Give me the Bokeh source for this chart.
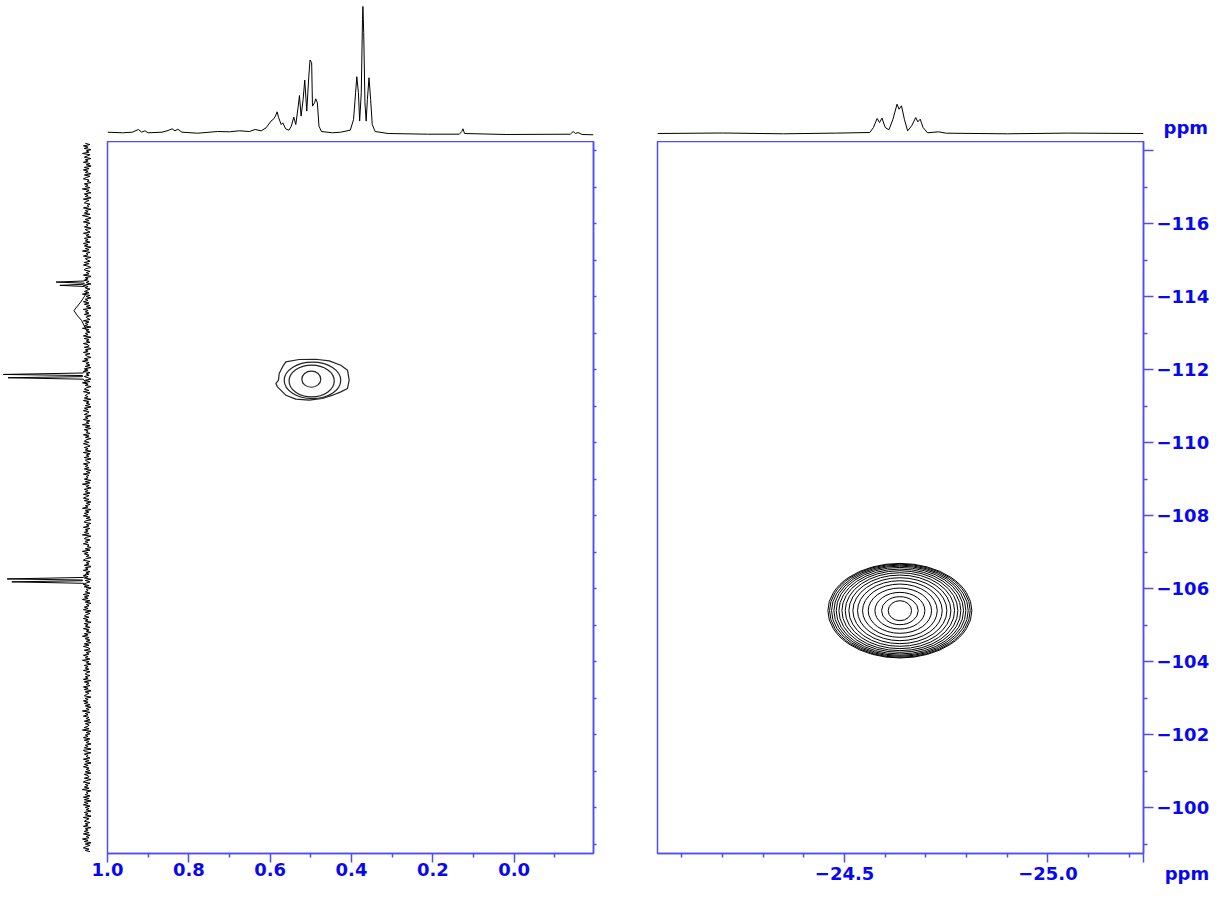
import numpy as np
from bokeh.plotting import figure
from bokeh.models import Range1d, FixedTicker, Spacer, CustomJSTickFormatter
from bokeh.layouts import row, column
from bokeh.embed import file_html
from bokeh.resources import INLINE

# ---------------- data ----------------
# 1D spectrum above the left panel (ppm, height)
H_TOP_PPM = [1.0, 0.963, 0.939, 0.924, 0.916, 0.908, 0.900, 0.866, 0.851, 0.841,
             0.834, 0.827, 0.817, 0.778, 0.729, 0.700, 0.676, 0.651, 0.637, 0.622,
             0.610, 0.598, 0.591, 0.587, 0.583, 0.579, 0.573, 0.569, 0.562, 0.554,
             0.548, 0.542, 0.537, 0.531, 0.528, 0.524, 0.519, 0.515, 0.510, 0.505,
             0.502, 0.498, 0.496, 0.491, 0.488, 0.484, 0.480, 0.474, 0.447, 0.427,
             0.403, 0.395, 0.390, 0.387, 0.383, 0.380, 0.376, 0.373, 0.372, 0.370,
             0.367, 0.364, 0.361, 0.357, 0.353, 0.349, 0.342, 0.310, 0.213, 0.135,
             0.129, 0.126, 0.122, 0.018, -0.138, -0.145, -0.151, -0.157, -0.167, -0.195]
H_TOP_INT = [1.3, 0.7, 1.3, 4.0, 1.3, 2.7, 0.7, 1.3, 3.0, 4.7,
             2.7, 4.3, 1.3, 0.3, 2.0, 1.7, 2.7, 2.0, 4.0, 2.7,
             5.7, 12.4, 14.7, 17.4, 21.7, 15.7, 9.0, 10.7, 4.7, 3.3,
             7.3, 16.4, 9.0, 27.4, 38.0, 17.4, 34.0, 53.4, 22.4, 57.4,
             73.5, 70.8, 27.4, 30.7, 34.7, 30.7, 7.3, 2.0, 0.7, 1.3,
             3.3, 14.0, 40.7, 56.8, 40.7, 12.4, 40.7, 114.0, 127.0, 101.0,
             30.7, 12.4, 34.0, 55.8, 34.0, 9.0, 2.0, 0.0, -0.7, -0.7,
             2.0, 4.7, 0.0, -1.0, -0.7, 2.0, 0.0, 1.0, -1.0, -1.3]

# 1D spectrum above the right panel
X_TOP_PPM = [-24.04, -24.20, -24.35, -24.48, -24.562, -24.571, -24.580, -24.586,
             -24.592, -24.600, -24.609, -24.619, -24.629, -24.634, -24.640, -24.647,
             -24.655, -24.665, -24.675, -24.680, -24.686, -24.693, -24.704, -24.731,
             -24.750, -24.90, -25.05, -25.235]
X_TOP_INT = [0.0, 0.5, -0.3, 0.4, 1.0, 6.0, 15.0, 11.0,
             15.3, 6.0, 3.7, 14.3, 29.3, 24.3, 27.7, 14.3,
             2.7, 7.7, 16.0, 11.7, 14.3, 6.0, 0.7, 1.7,
             0.3, -0.3, 0.4, 0.0]

# vertical projection (F1) peaks: ppm and height
F1_PEAK_PPM = [
    [-114.52, -114.43, -114.40, -114.37, -114.34, -114.31, -114.28, -114.20],
    [-114.15, -114.00, -113.85, -113.72, -113.62, -113.50, -113.35, -113.20, -113.05],
    [-112.05, -111.91, -111.87, -111.84, -111.81, -111.78, -111.74, -111.60],
    [-106.45, -106.31, -106.27, -106.24, -106.22, -106.19, -106.15, -106.02],
]
F1_PEAK_INT = [
    [0, 3, 33, 3, 4, 29, 3, 0],
    [0, 3, 7, 11, 14, 11, 6, 3, 0],
    [0, 4, 89, 5, 5, 84, 4, 0],
    [0, 4, 85, 5, 5, 80, 4, 0],
]
# baseline noise of the F1 projection
F1_NOISE = [
    2, -3, 4, -1, 3, -4, 1, -2, 5, -3, 0, 3, -4, 2, -1, 4, -3, 1, -5, 3,
    -2, 4, -1, 2, -4, 3, -3, 1, 4, -2, 0, -4, 3, -1, 2, -3, 5, -2, 1, -4,
    3, -1, 2, -5, 4, -2, 1, 3, -3, 0, -2, 4, -4, 2, -1, 3, -3, 5, -1, -4,
    2, -2, 4, -3, 1, -1, 3, -5, 2, 0, -3, 4, -2, 1, -4, 3, -1, 2, -3, 4,
    -1, 3, -4, 2, -2, 5, -3, 1, -1, 4, -4, 2, 0, -3, 3, -2, 4, -1, -4, 2,
    3, -3, 1, -2, 4, -5, 2, -1, 3, -2, 1, -4, 4, -1, 2, -3, 0, 3, -2, 5,
    -3, 1, -4, 2, -1, 4, -2, 3, -3, 1, -5, 4, -1, 2, -2, 3, -4, 1, 0, -3,
    4, -2, 2, -1, 3, -4, 5, -2, 1, -3, 2, -1, 4, -4, 3, -2, 1, -3, 4, -1,
    -2, 3, -5, 2, -1, 4, -3, 2, 0, -4, 3, -1, 5, -2, 1, -3, 2, -4, 3, -1,
    4, -3, 1, -2, 3, -1, -4, 2, -3, 5, -1, 2, -4, 1, 3, -2, 4, -3, 0, 2,
    -1, 3, -4, 4, -2, 1, -3, 2, -5, 3, -1, 4, -2, 0, 3, -4, 2, -1, 4, -3,
    1, -2, 5, -3, 2, -4, 3, -1, 1, -3, 4, -2, 2, -4, 1, 3, -2, 4, -1, -3,
    3, -1, 2, -4, 4, -3, 1, -2, 3, -5, 2, 0, -3, 4, -1, 2, -2, 3, -4, 1,
    -3, 4, -2, 1, -1, 3, -4, 2, -3, 5, -2, 1, -4, 3, -1, 2, -3, 4, -2, 1,
    4, -2, 3, -4, 1, -3, 2, -1, 5, -4, 2, -2, 3, -1, 4, -3, 1, -5, 2, 3,
    -4, 1, -2, 4, -3, 2, -1, 3, -2, 5, -4, 1, 3, -3, 2, -1, 4, -2, 0, -4,
    2, -3, 5, -1, 3, -2, 1, -4, 2, 4, -3, 1, -2, 3, -5, 2, -1, 4, -3, 1,
    -2, 4, -1, 3, -4, 2, -3, 1, 4, -2, 3, -5, 1, -1, 2, -3, 4, -2, 3, -1,
    5, -3, 2, -4, 1, -2, 3, -1, 4, -4, 2, -3, 1, 3, -2, 4, -1, 2, -5, 3,
    -1, 2, -3, 4, -2, 1, -4, 3, -1, 5, -2, 2, -3, 1, -4, 3, -2, 4, -1, -3,
    3, -4, 1, -2, 4, -1, 2, -3, 5, -2, 1, -4, 3, -1, 2, -2, 4, -3, 1, 2,
    -3, 2, -1, 4, -4, 3, -2, 1, -3, 4, -1, 3, -5, 2, -2, 1, 3, -4, 2, -1,
    4, -1, 3, -3, 2, -4, 1, -2, 5, -3, 2, -1, 4, -2, 1, -3, 3, -4, 2, -2,
    -1, 3, -2, 5, -4, 1, -3, 2, -1, 4, -3, 3, -2, 1, -4, 2, -1, 3, -5, 4,
    2, -4, 3, -1, 1, -3, 4, -2, 2, -5, 3, -1, 4, -2, 1, -3, 2, -4, 3, -1,
    -2, 3, -4, 1, 4, -3, 2, -1, 3, -2, 5, -4, 1, -1, 2, -3, 4, -2, 3, -4,
    3, -1, 4, -3, 2, -2, 1, -4, 3, -1, 2, -5, 4, -2, 1, 3, -3, 2, -1, 4,
    -4, 2, -1, 3, -2, 4, -3, 1, -2, 5, -1, 3, -4, 2, -3, 1, 4, -2, 2, -3,
]

# left 2D cross peak: inner rings (ellipses) and traced outer contour
L_RING_X = [0.4989, 0.498, 0.496]
L_RING_Y = [-111.74, -111.69, -111.71]
L_RING_W = [0.0467, 0.111, 0.139]
L_RING_H = [0.44, 0.87, 1.0]
L_OUTER_X = [0.5616, 0.5287, 0.4878, 0.4549, 0.4263, 0.4099, 0.4057, 0.4099, 0.4263,
             0.4468, 0.4714, 0.5041, 0.5370, 0.5616, 0.5739, 0.5820, 0.5862, 0.5795,
             0.5778, 0.5697]
L_OUTER_Y = [-112.213, -112.279, -112.287, -112.241, -112.123, -111.986, -111.713,
             -111.486, -111.393, -111.302, -111.212, -111.166, -111.193, -111.302,
             -111.439, -111.530, -111.622, -111.713, -111.896, -112.077]

# right 2D cross peak: concentric contour rings
R_CENTER = (-24.636, -105.40)
R_RING_W = [0.0574, 0.0901, 0.1229, 0.1557, 0.1836, 0.2082, 0.2311, 0.2508,
            0.2688, 0.2852, 0.2999, 0.3130, 0.3245, 0.3360, 0.3458, 0.3540]
R_RING_H = [0.547, 0.766, 1.003, 1.240, 1.459, 1.642, 1.806, 1.952,
            2.079, 2.189, 2.280, 2.371, 2.444, 2.499, 2.554, 2.590]

# ticks
LEFT_X_MAJOR = [1.0, 0.8, 0.6, 0.4, 0.2, 0.0]
LEFT_X_MINOR = [0.9, 0.7, 0.5, 0.3, 0.1, -0.1]
RIGHT_X_MAJOR = [-24.5, -25.0]
RIGHT_X_MINOR = [-24.1, -24.2, -24.3, -24.4, -24.6, -24.7, -24.8, -24.9,
                 -25.1, -25.2]
RIGHT_X_UNIT_AT = -25.234          # "ppm" unit label at the right end of the axis
F1_MAJOR = [-118, -116, -114, -112, -110, -108, -106, -104, -102, -100]
F1_MINOR = [-117, -115, -113, -111, -109, -107, -105, -103, -101, -99]
F1_ALL = sorted(F1_MAJOR + F1_MINOR)
TOP_UNIT_AT = 6                    # "ppm" unit label beside the top-right trace

# ---------------- styling ----------------
AXIS_BLUE = "#4d4dff"
TEXT_BLUE = "#0808f0"
FONT = "DejaVu Sans"
FS = "18px"

fmt_x = CustomJSTickFormatter(code="""
if (tick < -25.1) { return '\\u00a0'.repeat(14) + 'ppm'; }
return (tick < -1e-9 ? '\\u2212' : '') + Math.abs(tick).toFixed(1);
""")
fmt_f1 = CustomJSTickFormatter(
    code="return tick < -117 ? '' : ((tick < 0 ? '\\u2212' : '') + Math.abs(tick).toFixed(0));")
fmt_none = CustomJSTickFormatter(code="return '';")
fmt_unit = CustomJSTickFormatter(code="return 'ppm';")


def style_axis(ax):
    ax.axis_line_color = AXIS_BLUE
    ax.axis_line_width = 1.5
    ax.major_tick_line_color = AXIS_BLUE
    ax.minor_tick_line_color = AXIS_BLUE
    ax.major_tick_line_width = 1.5
    ax.minor_tick_line_width = 1.5
    ax.major_tick_in = 0
    ax.minor_tick_in = 0
    ax.major_label_text_font = FONT
    ax.major_label_text_font_style = "bold"
    ax.major_label_text_font_size = FS
    ax.major_label_text_color = TEXT_BLUE


def bottom_axis(ax, ticks, minor):
    style_axis(ax)
    ax.ticker = FixedTicker(ticks=ticks, minor_ticks=minor)
    ax.formatter = fmt_x
    ax.major_tick_out = 9
    ax.minor_tick_out = 4
    ax.major_label_standoff = 0


def clean(p):
    p.grid.visible = False
    p.background_fill_color = "white"
    p.border_fill_color = "white"


x_left = Range1d(1.0, -0.195)
x_right = Range1d(-24.04, -25.235)
y_f1 = Range1d(-98.75, -118.25)
y_top = Range1d(-8, 133)

TOP_H = 141
MAIN_H = 746
BOT = 34

# ---------------- vertical projection ----------------
vspec = figure(width=91, height=MAIN_H, x_range=Range1d(92.0, -4.6), y_range=y_f1,
               x_axis_location=None, y_axis_location=None,
               min_border_left=0, min_border_right=0, min_border_top=0,
               min_border_bottom=BOT, outline_line_color=None,
               output_backend="svg", toolbar_location=None)
clean(vspec)
noise_ppm = np.linspace(-118.2, -98.8, len(F1_NOISE))
vspec.line(F1_NOISE, noise_ppm, line_color="black", line_width=1)
vspec.multi_line(F1_PEAK_INT, F1_PEAK_PPM, line_color="black", line_width=1)

# ---------------- left panel ----------------
topL = figure(width=564, height=TOP_H, x_range=x_left, y_range=y_top,
              x_axis_location=None, y_axis_location=None,
              min_border_left=16, min_border_right=62, min_border_top=0,
              min_border_bottom=0, outline_line_color=None,
              output_backend="svg", toolbar_location=None)
clean(topL)
topL.line(H_TOP_PPM, H_TOP_INT, line_color="black", line_width=1)

mainL = figure(width=564, height=MAIN_H, x_range=x_left, y_range=y_f1,
               x_axis_location="below", y_axis_location="right",
               min_border_left=16, min_border_right=62, min_border_top=0,
               min_border_bottom=BOT, outline_line_color=AXIS_BLUE,
               outline_line_width=1.5,
               output_backend="svg", toolbar_location=None)
clean(mainL)
bottom_axis(mainL.xaxis[0], LEFT_X_MAJOR, LEFT_X_MINOR)
ry = mainL.yaxis[0]
style_axis(ry)
ry.ticker = FixedTicker(ticks=F1_ALL, minor_ticks=[])
ry.formatter = fmt_none
ry.major_tick_out = 3
ry.major_label_text_font_size = "1px"
mainL.ellipse(x=L_RING_X, y=L_RING_Y, width=L_RING_W, height=L_RING_H,
              fill_color=None, line_color="#222222", line_width=1.2)
mainL.patch(L_OUTER_X, L_OUTER_Y, fill_color=None, line_color="#222222",
            line_width=1.2)

# ---------------- right panel ----------------
topR = figure(width=560, height=TOP_H, x_range=x_right, y_range=y_top,
              x_axis_location=None, y_axis_location="right",
              min_border_left=2, min_border_right=72, min_border_top=0,
              min_border_bottom=0, outline_line_color=None,
              output_backend="svg", toolbar_location=None)
clean(topR)
topR.line(X_TOP_PPM, X_TOP_INT, line_color="black", line_width=1)
ua = topR.yaxis[0]
style_axis(ua)
ua.axis_line_color = None
ua.major_tick_line_color = None
ua.minor_tick_line_color = None
ua.major_tick_out = 0
ua.minor_tick_out = 0
ua.major_label_standoff = 20
ua.ticker = FixedTicker(ticks=[TOP_UNIT_AT], minor_ticks=[])
ua.formatter = fmt_unit

mainR = figure(width=560, height=MAIN_H, x_range=x_right, y_range=y_f1,
               x_axis_location="below", y_axis_location="right",
               min_border_left=2, min_border_right=72, min_border_top=0,
               min_border_bottom=BOT, outline_line_color=AXIS_BLUE,
               outline_line_width=1.5,
               output_backend="svg", toolbar_location=None)
clean(mainR)
bottom_axis(mainR.xaxis[0], RIGHT_X_MAJOR + [RIGHT_X_UNIT_AT], RIGHT_X_MINOR)
ay = mainR.yaxis[0]
style_axis(ay)
ay.ticker = FixedTicker(ticks=F1_MAJOR, minor_ticks=F1_MINOR)
ay.formatter = fmt_f1
ay.major_tick_out = 10
ay.minor_tick_out = 4
ay.major_label_standoff = 3
n = len(R_RING_W)
mainR.ellipse(x=[R_CENTER[0]] * n, y=[R_CENTER[1]] * n, width=R_RING_W,
              height=R_RING_H, fill_color=None, line_color="black", line_width=1)

layout = row(column(Spacer(width=91, height=TOP_H), vspec),
             column(topL, mainL),
             column(topR, mainR))

open("out.html", "w").write(file_html(layout, INLINE))
